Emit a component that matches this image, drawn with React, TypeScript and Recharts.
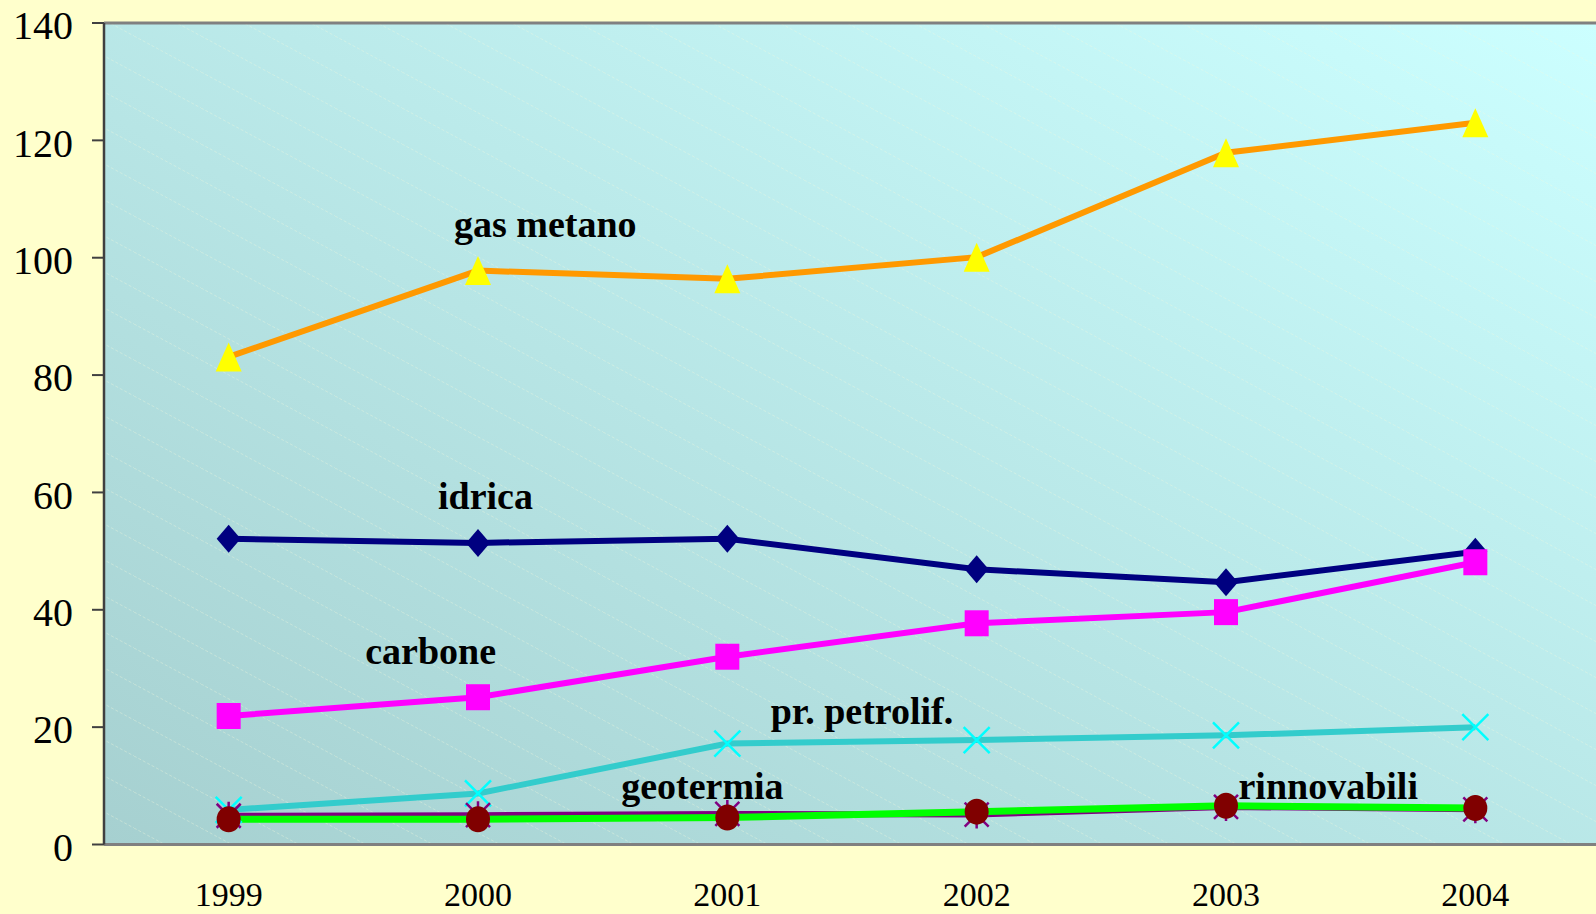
import {
  LineChart, Line, XAxis, YAxis, CartesianGrid, ReferenceArea, ReferenceLine, ReferenceDot,
} from 'recharts'

const YEARS = [1999, 2000, 2001, 2002, 2003, 2004]
const GAS_METANO = [83.1, 97.8, 96.4, 100.1, 117.9, 123.0]
const IDRICA = [52.1, 51.4, 52.1, 46.9, 44.7, 49.9]
const CARBONE = [21.9, 25.1, 32.0, 37.7, 39.6, 48.1]
const PETROLIF = [5.9, 8.7, 17.2, 17.8, 18.6, 20.0]
const GEOTERMIA = [4.9, 5.0, 5.2, 5.1, 6.4, 6.0]
const RINNOVABILI = [4.3, 4.3, 4.6, 5.6, 6.6, 6.2]
const Y_TICKS = [0, 20, 40, 60, 80, 100, 120, 140]

// series names written inside the plot, anchored in data units
const LABELS = [
  { text: 'gas metano', year: 2000.27, value: 103.6 },
  { text: 'idrica', year: 2000.03, value: 57.2 },
  { text: 'carbone', year: 1999.81, value: 30.8 },
  { text: 'pr. petrolif.', year: 2001.54, value: 20.5 },
  { text: 'geotermia', year: 2000.9, value: 7.75 },
  { text: 'rinnovabili', year: 2003.41, value: 7.8 },
]

const data = YEARS.map((year, i) => ({
  year,
  gas: GAS_METANO[i],
  idrica: IDRICA[i],
  carbone: CARBONE[i],
  petrolif: PETROLIF[i],
  geotermia: GEOTERMIA[i],
  rinnovabili: RINNOVABILI[i],
}))

const SERIF = '"Liberation Serif", "Times New Roman", serif'

type DotProps = { cx?: number; cy?: number; index?: number }

const Triangle = ({ cx = 0, cy = 0 }: DotProps) => (
  <polygon points={`${cx},${cy - 14.5} ${cx + 13},${cy + 14.5} ${cx - 13},${cy + 14.5}`} fill="#FFFF00" />
)
const Diamond = ({ cx = 0, cy = 0 }: DotProps) => (
  <polygon points={`${cx},${cy - 14} ${cx + 12},${cy} ${cx},${cy + 14} ${cx - 12},${cy}`} fill="#000080" />
)
const Square = ({ cx = 0, cy = 0 }: DotProps) => (
  <rect x={cx - 12} y={cy - 13} width={24} height={26} fill="#FF00FF" />
)
const Cross = ({ cx = 0, cy = 0 }: DotProps) => (
  <path d={`M${cx - 13},${cy - 13}L${cx + 13},${cy + 13}M${cx + 13},${cy - 13}L${cx - 13},${cy + 13}`} stroke="#00FFFF" strokeWidth={2.5} />
)
const Star = ({ cx = 0, cy = 0 }: DotProps) => (
  <path d={`M${cx - 12},${cy - 12}L${cx + 12},${cy + 12}M${cx + 12},${cy - 12}L${cx - 12},${cy + 12}M${cx},${cy - 14}L${cx},${cy + 14}`} stroke="#800080" strokeWidth={2.5} />
)
const Circle = ({ cx = 0, cy = 0 }: DotProps) => (
  <ellipse cx={cx} cy={cy} rx={12} ry={13} fill="#800000" />
)

export default function App() {
  return (
    <div style={{ position: 'absolute', left: 0, top: 0, width: 1596, height: 914, overflow: 'hidden', background: '#FFFFCC' }}>
      <LineChart width={1600} height={914} data={data} margin={{ top: 23, right: 0, left: 0, bottom: 0 }}>
        <defs>
          <linearGradient id="plotBg" x1="0" y1="1" x2="1" y2="0">
            <stop offset="0%" stopColor="#A6D0D0" />
            <stop offset="100%" stopColor="#CCFFFF" />
          </linearGradient>
          <pattern id="hatch" patternUnits="userSpaceOnUse" width={67} height={36}>
            <line x1={0} y1={0} x2={67} y2={36} stroke="#F4F8DC" strokeWidth={1} strokeDasharray="3 2" strokeOpacity={0.35} />
          </pattern>
        </defs>
        <CartesianGrid horizontal={false} vertical={false} fill="url(#plotBg)" />
        <ReferenceArea x1={1998.5} x2={2004.5} y1={0} y2={140} fill="url(#hatch)" fillOpacity={1} stroke="none" />
        <ReferenceLine y={140} stroke="#808080" strokeWidth={3} />
        <XAxis
          dataKey="year"
          type="number"
          domain={[1998.5, 2004.5]}
          ticks={YEARS}
          height={69.5}
          tickSize={0}
          tickMargin={37}
          axisLine={{ stroke: '#808080', strokeWidth: 3 }}
          tick={{ fill: '#000', fontSize: 34, fontFamily: SERIF }}
          interval={0}
        />
        <YAxis
          domain={[0, 140]}
          ticks={Y_TICKS}
          width={104}
          tickSize={12}
          tickMargin={19}
          axisLine={{ stroke: '#404040', strokeWidth: 2.5 }}
          tickLine={{ stroke: '#404040', strokeWidth: 2 }}
          tick={{ fill: '#000', fontSize: 40, fontFamily: SERIF, dy: 2 }}
          interval={0}
        />
        <Line dataKey="gas" stroke="#FF9900" strokeWidth={6} dot={(p: DotProps) => <Triangle key={`t${p.index}`} {...p} />} isAnimationActive={false} />
        <Line dataKey="idrica" stroke="#000080" strokeWidth={6} dot={(p: DotProps) => <Diamond key={`d${p.index}`} {...p} />} isAnimationActive={false} />
        <Line dataKey="carbone" stroke="#FF00FF" strokeWidth={6} dot={(p: DotProps) => <Square key={`s${p.index}`} {...p} />} isAnimationActive={false} />
        <Line dataKey="petrolif" stroke="#33CCCC" strokeWidth={6} dot={(p: DotProps) => <Cross key={`x${p.index}`} {...p} />} isAnimationActive={false} />
        <Line dataKey="geotermia" stroke="#800080" strokeWidth={6} dot={(p: DotProps) => <Star key={`p${p.index}`} {...p} />} isAnimationActive={false} />
        <Line dataKey="rinnovabili" stroke="#00FF00" strokeWidth={7} dot={(p: DotProps) => <Circle key={`c${p.index}`} {...p} />} isAnimationActive={false} />
        {LABELS.map((l) => (
          <ReferenceDot
            key={l.text}
            x={l.year}
            y={l.value}
            r={0}
            shape={(p: DotProps) => (
              <text x={p.cx} y={p.cy} textAnchor="middle" fontFamily={SERIF} fontWeight="bold" fontSize={38} fill="#000">
                {l.text}
              </text>
            )}
          />
        ))}
      </LineChart>
    </div>
  )
}
